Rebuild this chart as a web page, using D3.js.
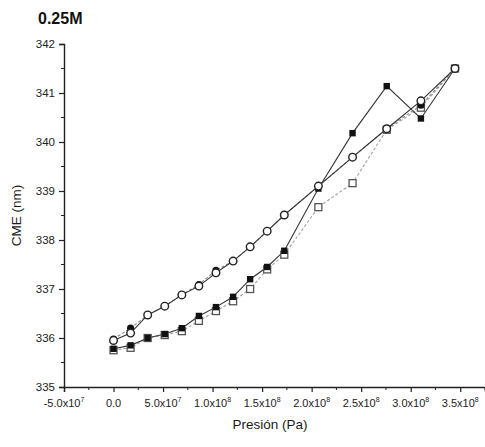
<!DOCTYPE html>
<html>
<head>
<meta charset="utf-8">
<script src="https://cdn.jsdelivr.net/npm/d3@7"></script>
<style>
  html, body { margin: 0; padding: 0; background: #fff; }
  svg { display: block; font-family: "Liberation Sans", Arial, sans-serif; }
</style>
</head>
<body>
<svg id="chart" width="485" height="447"></svg>
<script>
// Pressure steps (Pa): 2500 psi increments up to 25000 psi, then 5000 psi increments
const pressure = [0, 1.724e7, 3.447e7, 5.171e7, 6.895e7, 8.618e7, 1.034e8, 1.207e8,
                  1.379e8, 1.551e8, 1.724e8, 2.068e8, 2.413e8, 2.758e8, 3.103e8, 3.447e8];

// Centre of spectral mass (nm) for each run
const filledSquares = [335.78, 335.85, 336.00, 336.08, 336.20, 336.45, 336.63, 336.84,
                       337.20, 337.45, 337.78, 339.05, 340.18, 341.14, 340.48, 341.50];
const openSquares   = [335.75, 335.80, 336.00, 336.06, 336.14, 336.35, 336.55, 336.75,
                       337.00, 337.40, 337.70, 338.67, 339.16, 340.25, 340.70, 341.50];
const filledCircles = [335.98, 336.20, 336.47, 336.65, 336.88, 337.09, 337.38, 337.57,
                       337.86, 338.18, 338.51, 339.10, 339.69, 340.27, 340.75, 341.50];
const openCircles   = [335.95, 336.10, 336.47, 336.65, 336.88, 337.06, 337.33, 337.57,
                       337.86, 338.18, 338.51, 339.10, 339.69, 340.27, 340.84, 341.50];

const xTicks = [-5e7, 0, 5e7, 1e8, 1.5e8, 2e8, 2.5e8, 3e8, 3.5e8];
const yTicks = [335, 336, 337, 338, 339, 340, 341, 342];

const svg = d3.select("#chart");
const x = d3.scaleLinear().domain([-5e7, 3.75e8]).range([64, 485]);
const y = d3.scaleLinear().domain([335, 342]).range([387, 44]);

// Title
svg.append("text").attr("x", 38).attr("y", 24)
  .attr("font-size", 16).attr("font-weight", "bold").attr("fill", "#111")
  .text("0.25M");

// Y axis
const yAxis = svg.append("g").attr("transform", `translate(${x(-5e7)},0)`)
  .call(d3.axisLeft(y).tickValues(yTicks).tickSize(5).tickFormat(d3.format("d")));
yAxis.select(".domain").attr("stroke", "#222").attr("stroke-width", 1.4);
yAxis.selectAll(".tick line").attr("stroke", "#222").attr("stroke-width", 1.2);
yAxis.selectAll(".tick text").attr("font-size", 11.5).attr("fill", "#222")
  .attr("font-family", "Liberation Sans, Arial, sans-serif").attr("x", -9);
const yMinor = d3.range(335.5, 342, 1);
svg.append("g").selectAll("line").data(yMinor).join("line")
  .attr("x1", x(-5e7) - 3).attr("x2", x(-5e7))
  .attr("y1", d => y(d)).attr("y2", d => y(d))
  .attr("stroke", "#222").attr("stroke-width", 1);

// X axis with scientific labels
const xAxis = svg.append("g").attr("transform", `translate(0,${y(335)})`)
  .call(d3.axisBottom(x).tickValues(xTicks).tickSize(5).tickFormat(""));
xAxis.select(".domain").attr("stroke", "#222").attr("stroke-width", 1.4);
xAxis.selectAll(".tick line").attr("stroke", "#222").attr("stroke-width", 1.2);
const xMinor = d3.range(-2.5e7, 3.8e8, 5e7);
svg.append("g").selectAll("line").data(xMinor).join("line")
  .attr("x1", d => x(d)).attr("x2", d => x(d))
  .attr("y1", y(335)).attr("y2", y(335) + 3)
  .attr("stroke", "#222").attr("stroke-width", 1);

function sciParts(v) {
  if (v === 0) return { m: "0.0", e: null };
  const e = Math.floor(Math.log10(Math.abs(v)));
  const m = v / Math.pow(10, e);
  return { m: m.toFixed(1) + "x10", e: String(e) };
}
const xl = svg.append("g").selectAll("text").data(xTicks).join("text")
  .attr("x", d => x(d)).attr("y", 407)
  .attr("text-anchor", "middle").attr("font-size", 11).attr("fill", "#222");
xl.each(function(d) {
  const p = sciParts(d);
  const t = d3.select(this);
  t.append("tspan").text(p.m);
  if (p.e) t.append("tspan").attr("font-size", 7).attr("dy", -5).text(p.e);
});

// Axis titles
svg.append("text").attr("x", 270).attr("y", 429).attr("text-anchor", "middle")
  .attr("font-size", 13.5).attr("fill", "#1a1a1a").text("Presión (Pa)");
svg.append("text").attr("transform", `translate(21,${y(338.5)}) rotate(-90)`)
  .attr("text-anchor", "middle").attr("font-size", 13.5).attr("fill", "#1a1a1a")
  .text("CME (nm)");

// Series
const line = d3.line().x(d => x(d[0])).y(d => y(d[1]));
const zipped = vals => pressure.map((p, i) => [p, vals[i]]);

const series = [
  { vals: openSquares,   stroke: "#a0a0a0", dash: "3,2", width: 1.1, marker: "openSquare" },
  { vals: filledSquares, stroke: "#333",    dash: null,  width: 1.1, marker: "filledSquare" },
  { vals: filledCircles, stroke: "#888",    dash: "3,2", width: 1.1, marker: "filledCircle" },
  { vals: openCircles,   stroke: "#333",    dash: null,  width: 1.1, marker: "openCircle" }
];

series.forEach(s => {
  svg.append("path").datum(zipped(s.vals)).attr("d", line)
    .attr("fill", "none").attr("stroke", s.stroke).attr("stroke-width", s.width)
    .attr("stroke-dasharray", s.dash);
});

series.forEach(s => {
  const g = svg.append("g");
  const pts = zipped(s.vals);
  if (s.marker === "openSquare") {
    g.selectAll("rect").data(pts).join("rect")
      .attr("x", d => x(d[0]) - 3.5).attr("y", d => y(d[1]) - 3.5)
      .attr("width", 7).attr("height", 7)
      .attr("fill", "#fff").attr("stroke", "#555").attr("stroke-width", 1.3);
  } else if (s.marker === "filledSquare") {
    g.selectAll("rect").data(pts).join("rect")
      .attr("x", d => x(d[0]) - 3.2).attr("y", d => y(d[1]) - 3.2)
      .attr("width", 6.4).attr("height", 6.4).attr("fill", "#111");
  } else if (s.marker === "filledCircle") {
    g.selectAll("circle").data(pts).join("circle")
      .attr("cx", d => x(d[0])).attr("cy", d => y(d[1])).attr("r", 3.6)
      .attr("fill", "#111");
  } else {
    g.selectAll("circle").data(pts).join("circle")
      .attr("cx", d => x(d[0])).attr("cy", d => y(d[1])).attr("r", 3.8)
      .attr("fill", "#fff").attr("stroke", "#222").attr("stroke-width", 1.4);
  }
});
</script>
</body>
</html>
